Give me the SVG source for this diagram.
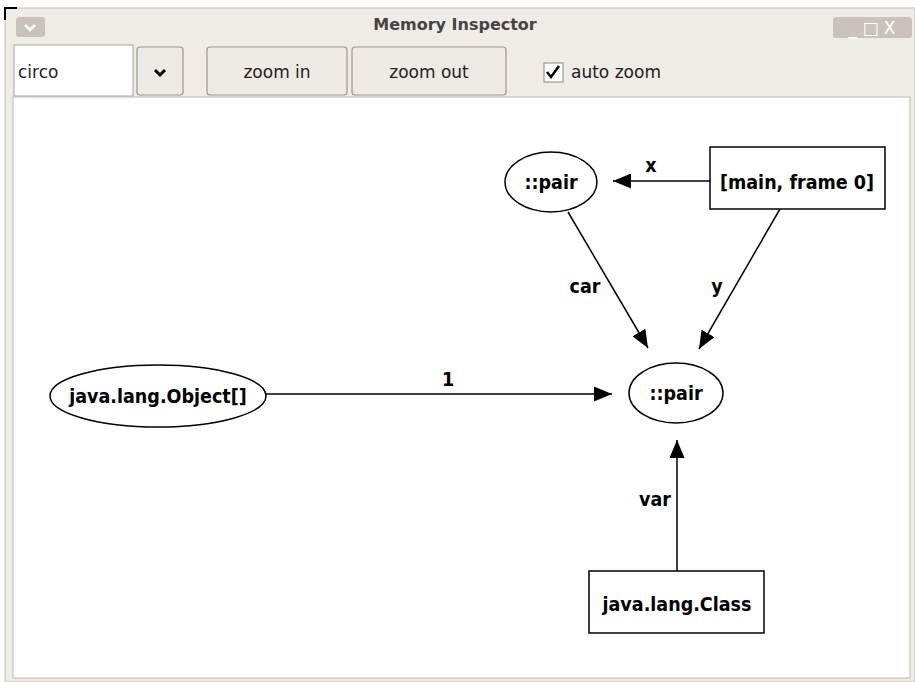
<svg xmlns="http://www.w3.org/2000/svg" width="915" height="682" viewBox="0 0 915 682">
<defs>
<style>
.ui{font-family:"DejaVu Sans",sans-serif;font-size:17px;fill:#222}
.btn{fill:#ede9e4;stroke:#9d968e;stroke-width:1.2}
.lbl{font-family:"DejaVu Sans Condensed","DejaVu Sans",sans-serif;font-weight:bold;font-size:19.5px;fill:#000;text-anchor:middle}
.shape{fill:#fff;stroke:#000;stroke-width:1.5}
.edge{stroke:#000;stroke-width:1.5;fill:none;marker-end:url(#ah)}
</style>
<marker id="ah" viewBox="0 0 18 15" refX="18" refY="7.5" markerWidth="18" markerHeight="15" markerUnits="userSpaceOnUse" orient="auto">
<path d="M0,0 L18,7.5 L0,15 z" fill="#000"/>
</marker>
</defs>
<!-- window -->
<rect x="0" y="0" width="915" height="682" fill="#fff"/>
<rect x="5" y="8" width="910" height="674" fill="#efebe7" stroke="#c4bdb5" stroke-width="1"/>
<path d="M5,20 L5,8 L17,8" stroke="#000" stroke-width="2" fill="none"/>
<rect x="16" y="17" width="29" height="20" rx="3" fill="#c9c3bc"/>
<path d="M25,25 L30,30 L35,25" stroke="#fff" stroke-width="2.5" fill="none"/>
<text x="455" y="30" font-family="DejaVu Sans,sans-serif" font-weight="bold" font-size="16" fill="#444" text-anchor="middle">Memory Inspector</text>
<rect x="833" y="17" width="79" height="21" rx="3" fill="#c9c3bc"/>
<text x="872" y="34" font-family="DejaVu Sans,sans-serif" font-size="17" fill="#fff" text-anchor="middle">_ □ X</text>
<!-- toolbar -->
<rect x="14" y="45" width="119" height="51" fill="#fff" stroke="#a8a198" stroke-width="1"/>
<text class="ui" x="18" y="78">circo</text>
<rect class="btn" x="137" y="47" width="46" height="48" rx="3"/>
<path d="M155,70 L160,75 L165,70" stroke="#000" stroke-width="3" fill="none"/>
<rect class="btn" x="207" y="47" width="140" height="48" rx="3"/>
<text class="ui" x="277" y="78" text-anchor="middle">zoom in</text>
<rect class="btn" x="352" y="47" width="154" height="48" rx="3"/>
<text class="ui" x="429" y="78" text-anchor="middle">zoom out</text>
<rect x="544" y="63" width="19" height="19" fill="#fff" stroke="#9d968e" stroke-width="1.2"/>
<path d="M547,72 L551,77 L559,66" stroke="#000" stroke-width="2.5" fill="none"/>
<text class="ui" x="571" y="78">auto zoom</text>
<!-- canvas -->
<rect x="13" y="97" width="897" height="581" fill="#fff" stroke="#bfb8b0" stroke-width="1"/>
<!-- connectors -->
<g id="edges">
<path class="edge" d="M710,181 L613,181"/>
<text class="lbl" x="651" y="172">x</text>
<path class="edge" d="M568,212 L648,348"/>
<text class="lbl" x="585" y="293">car</text>
<path class="edge" d="M780,209 L699,349"/>
<text class="lbl" x="717" y="293">y</text>
<path class="edge" d="M266,394 L612,394"/>
<text class="lbl" x="448" y="386">1</text>
<path class="edge" d="M677,571 L677,440"/>
<text class="lbl" x="655" y="506">var</text>
</g>
<!-- nodes -->
<g id="pair1">
<ellipse class="shape" cx="551" cy="182" rx="46" ry="30"/>
<text class="lbl" x="551" y="189">::pair</text>
</g>
<g id="frame">
<rect class="shape" x="710" y="147" width="175" height="62"/>
<text class="lbl" x="797" y="189">[main, frame 0]</text>
</g>
<g id="pair2">
<ellipse class="shape" cx="676" cy="393" rx="47" ry="30"/>
<text class="lbl" x="676" y="400">::pair</text>
</g>
<g id="objarr">
<ellipse class="shape" cx="158" cy="396" rx="108" ry="31"/>
<text class="lbl" x="158" y="403">java.lang.Object[]</text>
</g>
<g id="cls">
<rect class="shape" x="589" y="571" width="175" height="62"/>
<text class="lbl" x="677" y="611">java.lang.Class</text>
</g>
</svg>
